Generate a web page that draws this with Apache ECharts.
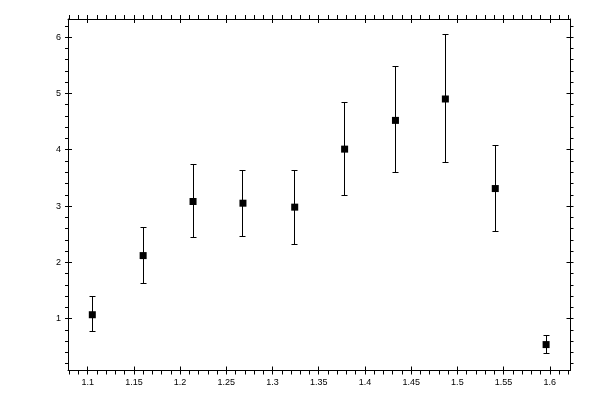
<!DOCTYPE html>
<html>
<head>
<meta charset="utf-8">
<script src="https://cdn.jsdelivr.net/npm/echarts@6/dist/echarts.min.js"></script>
<style>
  html, body { margin: 0; padding: 0; background: #fff; }
  #chart { width: 600px; height: 400px; }
</style>
</head>
<body>
<div id="chart"></div>
<script>
// values
const xVals = [1.105, 1.160, 1.214, 1.268, 1.324, 1.378, 1.433, 1.487, 1.541, 1.596];
const yVals = [1.07, 2.12, 3.08, 3.05, 2.98, 4.01, 4.52, 4.90, 3.31, 0.54];
const yLow  = [0.77, 1.62, 2.44, 2.46, 2.32, 3.19, 3.60, 3.78, 2.55, 0.38];
const yHigh = [1.40, 2.62, 3.73, 3.63, 3.63, 4.83, 5.47, 6.04, 4.07, 0.70];

const xTicks = [1.1, 1.15, 1.2, 1.25, 1.3, 1.35, 1.4, 1.45, 1.5, 1.55, 1.6];
const yTicks = [1, 2, 3, 4, 5, 6];
const xRange = [1.0787, 1.6224];
const yRange = [0.08, 6.32];

// small ticks every 1/5 of a major step, across the whole axis
function minorTicks(range, step) {
  let out = [];
  for (let k = Math.ceil(range[0] / step - 1e-9); k * step <= range[1] + 1e-9; k++) {
    out.push(+(k * step).toFixed(4));
  }
  return out;
}
const xMinor = minorTicks(xRange, 0.01);
const yMinor = minorTicks(yRange, 0.2);

const font = { fontFamily: 'Liberation Sans', fontSize: 9, color: '#000' };
const black = { color: '#000', width: 1 };

function axis(gridIndex, position, range, ticks, len, inside, showLine, labels, margin) {
  return {
    type: 'value',
    gridIndex: gridIndex,
    position: position,
    min: range[0],
    max: range[1],
    axisLine: { show: showLine, onZero: false, lineStyle: black },
    axisTick: { show: true, inside: inside, length: len, customValues: ticks, lineStyle: black },
    axisLabel: labels ? Object.assign({
      margin: margin,
      customValues: labels,
      formatter: v => String(+v.toFixed(2))
    }, font) : { show: false },
    splitLine: { show: false }
  };
}

const gridBox = { left: 68, right: 29.5, top: 19, bottom: 29.5 };

// snap to pixel centres so the 1px lines stay sharp
const px = v => Math.round(v - 0.5) + 0.5;

let chart = echarts.init(document.getElementById('chart'));
chart.setOption({
  animation: false,
  backgroundColor: '#fff',
  grid: [Object.assign({}, gridBox), Object.assign({}, gridBox)],
  xAxis: [
    axis(0, 'bottom', xRange, xMinor, 4, false, true, xTicks, 8),
    axis(0, 'top', xRange, xMinor, 4, false, true, null),
    axis(1, 'bottom', xRange, xTicks, 4, true, false, null),
    axis(1, 'top', xRange, xTicks, 4, true, false, null)
  ],
  yAxis: [
    axis(0, 'left', yRange, yMinor, 3, false, true, yTicks, 7),
    axis(0, 'right', yRange, yMinor, 3, false, true, null),
    axis(1, 'left', yRange, yTicks, 4, true, false, null),
    axis(1, 'right', yRange, yTicks, 4, true, false, null)
  ],
  series: [
    {
      type: 'custom',
      xAxisIndex: 0,
      yAxisIndex: 0,
      data: xVals.map((x, i) => [x, yLow[i], yHigh[i]]),
      encode: { x: 0, y: [1, 2] },
      renderItem: function(params, api) {
        let x = api.value(0);
        let top = api.coord([x, api.value(2)]);
        let bot = api.coord([x, api.value(1)]);
        let cx = px(top[0]), ty = px(top[1]), by = px(bot[1]);
        let w = 2.5;
        let style = { stroke: '#000', lineWidth: 1 };
        return {
          type: 'group',
          children: [
            { type: 'line', shape: { x1: cx, y1: ty, x2: cx, y2: by }, style: style },
            { type: 'line', shape: { x1: cx - w - 0.5, y1: ty, x2: cx + w + 0.5, y2: ty }, style: style },
            { type: 'line', shape: { x1: cx - w - 0.5, y1: by, x2: cx + w + 0.5, y2: by }, style: style }
          ]
        };
      }
    },
    {
      type: 'scatter',
      xAxisIndex: 0,
      yAxisIndex: 0,
      symbol: 'rect',
      symbolSize: 7,
      itemStyle: { color: '#000', opacity: 1 },
      z: 3,
      data: xVals.map((x, i) => [x, yVals[i]])
    }
  ]
});
</script>
</body>
</html>
